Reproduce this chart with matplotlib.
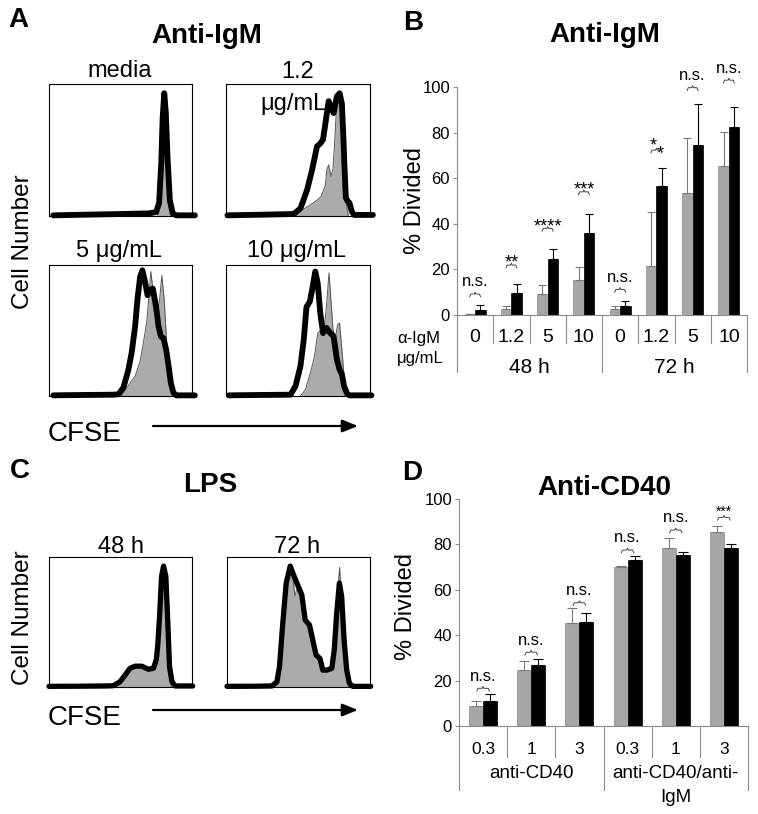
import matplotlib
matplotlib.use('Agg')
import matplotlib.pyplot as plt
import numpy as np

plt.rcParams['font.family'] = ['Liberation Sans', 'DejaVu Sans']

W, H = 758, 814
fig = plt.figure(figsize=(W / 100, H / 100), dpi=100)


def rect(x0, y0, x1, y1):
    return [x0 / W, 1 - y1 / H, (x1 - x0) / W, (y1 - y0) / H]


# ---------------- data: CFSE histograms (CFSE position, relative cell number) -------------
media_black_x = [3, 25, 50, 70, 75, 77, 78.5, 79.5, 80.6, 81.7, 83, 84.5, 86.5, 89, 102]
media_black_y = [0.5, 1, 1.5, 2, 3, 10, 40, 75, 93, 78, 42, 12, 2, 0.5, 0.5]
media_gray_x = [76, 77.5, 78.8, 79.8, 80.6, 81.5, 82.5, 83.8, 85.5]
media_gray_y = [0, 8, 35, 70, 90, 75, 40, 12, 0]

igm12_black_x = [1, 25, 47, 51.7, 56.3, 59.8, 63.2, 65.5, 67.4, 69, 71.3, 73, 74.7, 77, 78.9,
                 80.5, 81.5, 82.3, 83.2, 84.5, 85.7, 87.4, 89, 102]
igm12_black_y = [0.5, 1, 1.5, 5.8, 19.7, 35, 52.7, 55, 58, 70, 87, 82, 78, 90.6, 93,
                 85, 60, 37, 14, 11, 10, 3.3, 0.8, 0.8]
igm12_gray_x = [47, 52.9, 58.6, 63.2, 66, 69, 70, 71.3, 72.9, 74.3, 75.4, 77, 78.9, 80.5,
                81.6, 82.8, 84, 85]
igm12_gray_y = [0, 4.6, 8.4, 12, 14.7, 23.5, 35, 38.7, 30, 36, 55, 88, 93, 83, 55, 22, 6, 0]

igm5_black_x = [3, 25, 45, 48.5, 52, 55.5, 57.8, 60.2, 61.8, 63.7, 65.3, 67.2, 68.9, 70.7,
                72.6, 74.9, 76.6, 78.2, 80.1, 82, 83.6, 85.2, 87, 89, 102]
igm5_black_y = [0.5, 0.8, 1, 1.3, 6.3, 20, 33, 53, 73, 91, 96, 87, 77, 81, 82, 68, 53,
                45.6, 44, 35, 23, 10, 2.5, 0.5, 0.5]
igm5_gray_x = [50.8, 56.7, 60.2, 63.7, 66, 68.4, 70, 71.2, 73, 75.4, 77.3, 78.9, 80.6, 82.4,
               84.8, 86.6, 87.6]
igm5_gray_y = [0, 10, 15, 26.6, 40.5, 57, 78, 95, 78, 61, 73, 92, 73, 38, 18, 4, 0]

igm10_black_x = [2, 25, 44.8, 48.3, 51.7, 54, 55.9, 58.2, 59.8, 62, 63.7, 65.5, 67.4, 69.7,
                 72.4, 74.7, 77, 78.9, 80.5, 82, 84, 85.7, 101]
igm10_black_y = [0.5, 0.8, 1, 7.6, 22.8, 43, 68, 72, 81, 95, 86, 63, 48, 52, 48, 45.6, 28,
                 20, 16.5, 7.6, 2, 0.5, 0.5]
igm10_gray_x = [51.7, 55.2, 58.6, 61.4, 63.7, 66, 68.3, 70.1, 71.5, 72.9, 74.3, 75.9, 77.5,
                78.9, 80.5, 82, 83.4, 84.4]
igm10_gray_y = [0, 5, 17.7, 30, 48, 50.6, 52, 73, 94, 73, 50.6, 44, 54.4, 55.7, 35, 15, 2.5, 0]

lps48_black_x = [0, 20, 40, 45, 49.6, 53.2, 56.7, 60.2, 64.9, 69.6, 73, 75, 76, 77.3, 78.7,
                 80.1, 81.7, 83.1, 84.3, 86, 88.3, 100.5]
lps48_black_y = [0.5, 0.6, 0.8, 1, 4, 9.2, 14.4, 16, 16, 13.6, 14.4, 20.8, 31, 54, 85, 93,
                 85, 49, 15.6, 4, 0.8, 0.8]
lps48_gray_x = [47, 50, 53.2, 56.7, 60.2, 64.9, 69.6, 73, 75, 76.2, 77.5, 78.8, 80.1, 81.5,
                82.8, 84, 85.5]
lps48_gray_y = [0, 3, 8, 13.5, 15, 15, 12.5, 13.5, 19, 30, 52, 82, 92, 82, 48, 14, 0]

lps72_black_x = [0, 20, 31.4, 34.9, 36.7, 39, 41.4, 44.2, 47, 50, 52.3, 54.7, 57.7, 60, 62.3,
                 65, 67, 69.8, 73.3, 75, 76.7, 78.6, 80.2, 81.9, 83.7, 85.6, 88, 100.5]
lps72_black_y = [0.5, 0.6, 0.8, 4, 15.6, 49, 80, 93, 85, 77, 71, 51.5, 47.7, 36, 24.6, 22,
                 13, 13, 14.4, 28.5, 56.7, 80, 69.5, 36, 13, 2.8, 0.5, 0.5]
lps72_gray_x = [33, 35, 37, 39, 41.4, 44.2, 46, 47.5, 49, 50.5, 52.3, 54.7, 57.7, 60, 62.3,
                65, 67, 69.8, 73.3, 75, 76.7, 78.3, 78.8, 79.5, 80.5, 81.9, 83.7, 85.6]
lps72_gray_y = [0, 3, 14, 46, 77, 92, 86, 70, 76, 74, 68, 49, 45.5, 34, 23, 20.5, 12, 11.5,
                13, 27, 55, 86, 92, 75, 62, 34, 11, 0]

# ---------------- data: panel B (% divided, anti-IgM) ----------------
B_doses = ['0', '1.2', '5', '10', '0', '1.2', '5', '10']
B_groups = ['48 h', '72 h']
B_gray = [0.5, 2.8, 9.4, 15.2, 2.6, 21.7, 53.7, 65.2]
B_gray_err = [0, 1.1, 3.6, 6.0, 1.3, 23.4, 24.1, 14.9]
B_black = [2.4, 9.5, 24.7, 35.8, 4.1, 56.5, 74.7, 82.3]
B_black_err = [2.0, 3.9, 4.2, 8.7, 2.0, 8.0, 18.0, 8.9]
B_sig = ['n.s.', '**', '****', '***', 'n.s.', '**', 'n.s.', 'n.s.']
B_sig_y = [9.2, 21.9, 38, 54, 11.2, 72.3, 99.7, 103]
B_sig_stagger = [False, False, False, False, False, True, False, False]

# ---------------- data: panel D (% divided, anti-CD40) ----------------
D_doses = ['0.3', '1', '3', '0.3', '1', '3']
D_groups = ['anti-CD40', 'anti-CD40/anti-\nIgM']
D_gray = [8.8, 24.7, 45.2, 70.2, 78.3, 85.3]
D_gray_err = [2.2, 3.9, 6.6, 0.4, 4.4, 2.8]
D_black = [11.0, 26.9, 45.8, 73.0, 75.3, 78.6]
D_black_err = [3.0, 2.5, 4.1, 1.9, 1.4, 1.4]
D_sig = ['n.s.', 'n.s.', 'n.s.', 'n.s.', 'n.s.', '***']
D_sig_y = [16.6, 32.5, 54.3, 77.5, 86.3, 91.9]

GRAY = '#a6a6a6'
AXGRAY = '#8c8c8c'


# ---------------- histogram panels ----------------
def hist(px, gx, gy, bx, by, lw=4.2):
    ax = fig.add_axes(rect(*px))
    ax.set_xlim(0, 100)
    ax.set_ylim(0, 100)
    ax.fill_between(gx, gy, color='#ababab', lw=0, zorder=1)
    ax.plot(gx, gy, color='#555555', lw=0.7, zorder=2)
    ax.plot(bx, by, color='black', lw=lw, solid_joinstyle='round',
            solid_capstyle='round', clip_on=False, zorder=3)
    ax.set_xticks([])
    ax.set_yticks([])
    for s in ax.spines.values():
        s.set_linewidth(0.8)
    return ax


hist((49, 84, 192, 216), media_gray_x, media_gray_y, media_black_x, media_black_y)
hist((226, 84, 370, 216), igm12_gray_x, igm12_gray_y, igm12_black_x, igm12_black_y)
hist((49, 265, 192, 396), igm5_gray_x, igm5_gray_y, igm5_black_x, igm5_black_y)
hist((226, 265, 370, 396), igm10_gray_x, igm10_gray_y, igm10_black_x, igm10_black_y)
hist((49, 557, 192, 687), lps48_gray_x, lps48_gray_y, lps48_black_x, lps48_black_y, lw=3.8)
hist((227, 557, 370, 687), lps72_gray_x, lps72_gray_y, lps72_black_x, lps72_black_y, lw=3.8)


# ---------------- bar panels ----------------
def brace(ax, xc, y, hw, hh):
    xs = [xc - hw, xc - hw * 0.8, xc - hw * 0.15, xc, xc + hw * 0.15, xc + hw * 0.8, xc + hw]
    ys = [y - hh, y, y, y + hh * 0.7, y, y, y - hh]
    ax.plot(xs, ys, color='#444444', lw=0.7, clip_on=False, zorder=4)


def bar_panel(px, gray, gerr, black, berr, doses, sig, sig_y, stagger, long_idx,
              tick_y, short_y, long_y, lab_size, star_size, brace_hw, capsize):
    x0, y0, x1, y1 = px
    hpx = y1 - y0
    ax = fig.add_axes(rect(*px))
    n = len(gray)
    xc = np.arange(n) + 0.5
    w = 0.29
    ax.bar(xc - w / 2, gray, width=w, color=GRAY, edgecolor='#8a8a8a', lw=0.5, zorder=2)
    ax.bar(xc + w / 2, black, width=w, color='black', edgecolor='black', lw=0.5, zorder=2)
    ax.errorbar(xc - w / 2, gray, yerr=[np.zeros(n), gerr], fmt='none', ecolor='#7a7a7a',
                elinewidth=0.8, capsize=capsize, capthick=0.8, zorder=3)
    ax.errorbar(xc + w / 2, black, yerr=[np.zeros(n), berr], fmt='none', ecolor='black',
                elinewidth=0.8, capsize=capsize, capthick=0.8, zorder=3)
    ax.set_xlim(0, n)
    ax.set_ylim(0, 100)
    ax.set_yticks([0, 20, 40, 60, 80, 100])
    ax.tick_params(axis='y', length=3, width=0.8, color=AXGRAY, labelsize=12, pad=2)
    ax.set_xticks([])
    for s in ['top', 'right']:
        ax.spines[s].set_visible(False)
    for s in ['left', 'bottom']:
        ax.spines[s].set_color(AXGRAY)
        ax.spines[s].set_linewidth(0.8)
    tr = ax.get_xaxis_transform()
    for i in range(n + 1):
        L = long_y if i in long_idx else short_y
        ax.plot([i, i], [0, -(L - y1) / hpx], transform=tr, clip_on=False,
                color=AXGRAY, lw=0.8)
    for i, d in enumerate(doses):
        ax.text(xc[i], -(tick_y - y1) / hpx, d, transform=tr, ha='center', va='center',
                fontsize=lab_size)
    for i, (s, yy) in enumerate(zip(sig, sig_y)):
        brace(ax, xc[i], yy, brace_hw, 1.2)
        if s == 'n.s.':
            ax.annotate(s, (xc[i], yy), xytext=(0, 5.5), textcoords='offset points',
                        ha='center', va='baseline', fontsize=12, annotation_clip=False)
        elif stagger[i]:
            ax.annotate('*', (xc[i], yy), xytext=(-2, -0.5), textcoords='offset points',
                        ha='center', va='baseline', fontsize=star_size, annotation_clip=False)
            ax.annotate('*', (xc[i], yy), xytext=(2.5, -6), textcoords='offset points',
                        ha='center', va='baseline', fontsize=star_size, annotation_clip=False)
        else:
            ax.annotate(s, (xc[i], yy), xytext=(0, -2 if star_size > 11 else 1.5),
                        textcoords='offset points', ha='center', va='baseline',
                        fontsize=star_size, annotation_clip=False)
    return ax


axB = bar_panel((457, 87, 747, 315), B_gray, B_gray_err, B_black, B_black_err, B_doses,
                B_sig, B_sig_y, B_sig_stagger, (0, 4, 8), 337, 343, 372, 14, 13, 0.15, 3)
trB = axB.get_xaxis_transform()
for k, g in enumerate(B_groups):
    axB.text(2 + 4 * k, -(367 - 315) / 228, g, transform=trB, ha='center', va='center',
             fontsize=15)

axD = bar_panel((459, 499, 748, 726), D_gray, D_gray_err, D_black, D_black_err, D_doses,
                D_sig, D_sig_y, [False] * 6, (0, 3, 6), 749, 757, 790, 12.5, 10, 0.13, 3.5)
trD = axD.get_xaxis_transform()
for k, g in enumerate(D_groups):
    for j, line in enumerate(g.split('\n')):
        axD.text(1.5 + 3 * k, -(773 + 25 * j - 726) / 227, line, transform=trD,
                 ha='center', va='center', fontsize=13.5)

# ---------------- overlay text ----------------
ov = fig.add_axes([0, 0, 1, 1])
ov.set_xlim(0, W)
ov.set_ylim(H, 0)
ov.axis('off')

bold = dict(fontweight='bold', fontsize=20, va='baseline')
ov.text(8, 27, 'A', ha='left', **bold)
ov.text(207, 43, 'Anti-IgM', ha='center', **bold)
ov.text(403, 30, 'B', ha='left', **bold)
ov.text(605, 42, 'Anti-IgM', ha='center', **bold)
ov.text(10, 478, 'C', ha='left', **bold)
ov.text(210, 492, 'LPS', ha='center', **bold)
ov.text(402, 480, 'D', ha='left', **bold)
ov.text(604, 495, 'Anti-CD40', ha='center', **bold)

sub = dict(fontsize=17, ha='center', va='baseline')
ov.text(120, 77, 'media', **sub)
ov.text(298, 78, '1.2', **sub)
ov.text(293, 110, 'μg/mL', **sub)
ov.text(119, 257, '5 μg/mL', **sub)
ov.text(297, 257, '10 μg/mL', **sub)
ov.text(121, 553, '48 h', **sub)
ov.text(297, 553, '72 h', **sub)

ov.text(23, 242, 'Cell Number', rotation=90, ha='center', va='center', fontsize=17.5)
ov.text(23, 618, 'Cell Number', rotation=90, ha='center', va='center', fontsize=17.5)
ov.text(48, 441, 'CFSE', ha='left', va='baseline', fontsize=20)
ov.text(48, 725, 'CFSE', ha='left', va='baseline', fontsize=20)
for ya in (426, 710):
    ov.annotate('', xy=(358, ya), xytext=(153, ya),
                arrowprops=dict(arrowstyle='-|>,head_length=0.95,head_width=0.38',
                                lw=1.6, color='black', shrinkA=0, shrinkB=0))

ov.text(415, 200, '% Divided', rotation=90, ha='center', va='center', fontsize=17)
ov.text(406, 607, '% Divided', rotation=90, ha='center', va='center', fontsize=17)
ov.text(397, 338, 'α-IgM', ha='left', va='center', fontsize=12)
ov.text(397, 358, 'μg/mL', ha='left', va='center', fontsize=12)

fig.savefig('out.png', dpi=100)
